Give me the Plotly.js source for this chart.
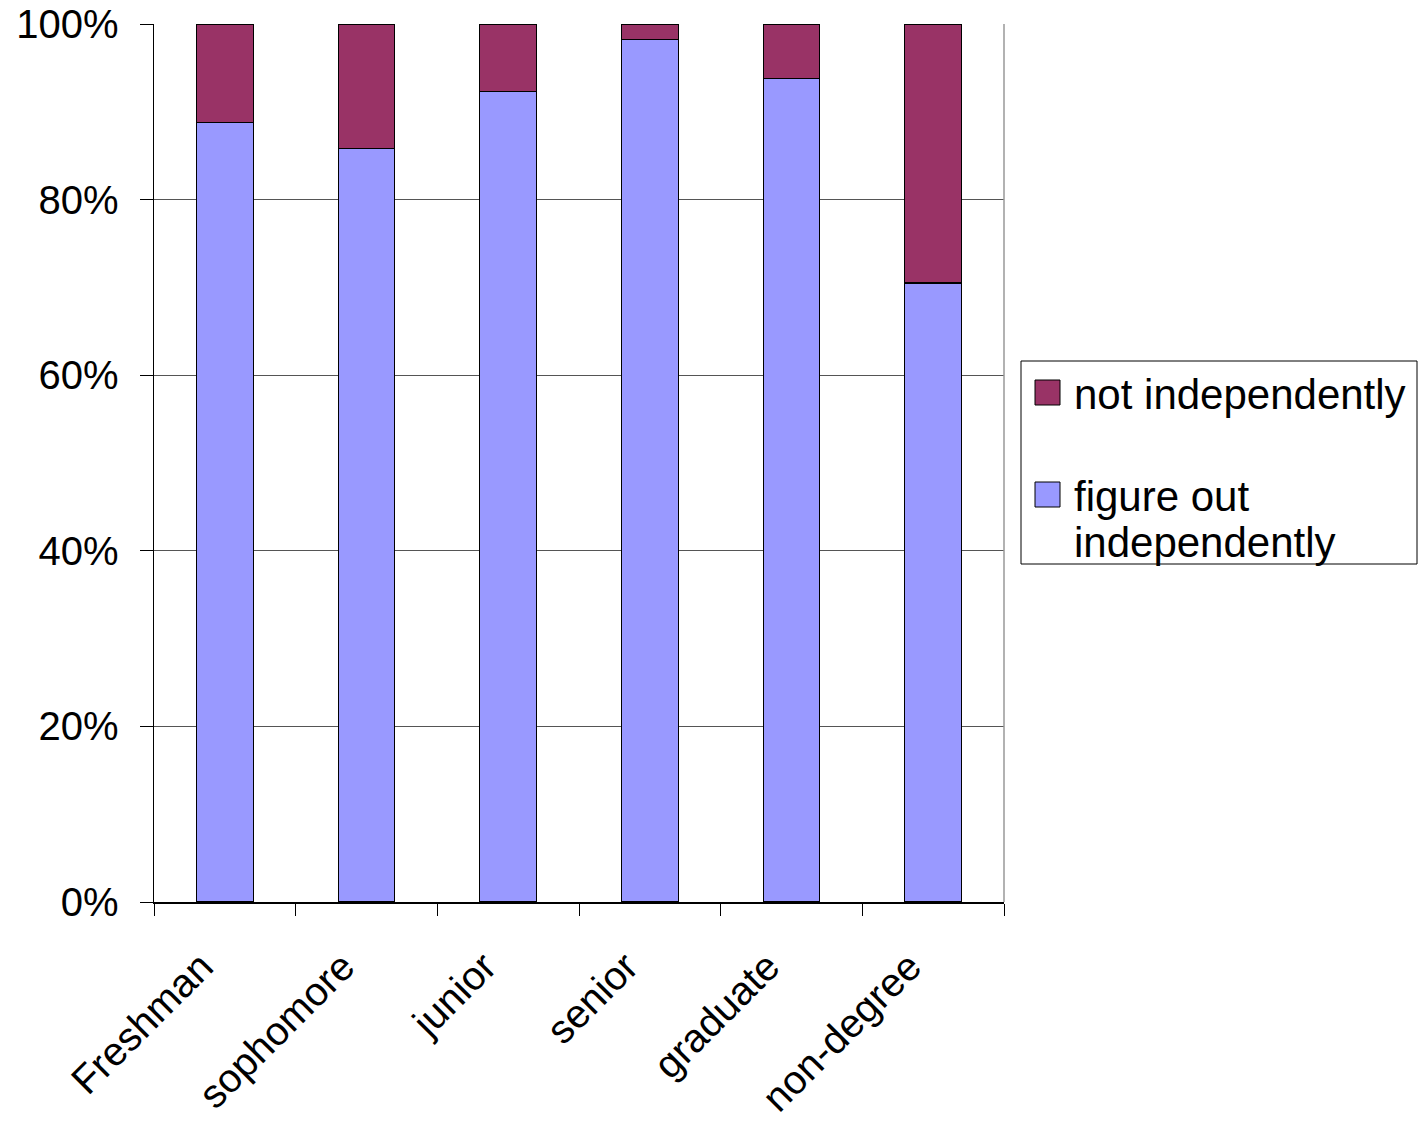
<!DOCTYPE html>
<html>
<head>
<meta charset="utf-8">
<script src="https://cdn.plot.ly/plotly-3.0.1.min.js"></script>
<style>html,body{margin:0;padding:0;background:#fff;}#chart{width:1418px;height:1121px;}</style>
</head>
<body>
<div id="chart"></div>
<script>
const categories = ["Freshman", "sophomore", "junior", "senior", "graduate", "non-degree"];
const figureOut = [0.888, 0.858, 0.923, 0.982, 0.938, 0.705];
const notIndependently = [0.112, 0.142, 0.077, 0.018, 0.062, 0.295];
const yTickVals = [0, 0.2, 0.4, 0.6, 0.8, 1.0];
const yTickText = ["0%", "20%", "40%", "60%", "80%", "100%"];
const seriesNames = ["not independently", "figure out", "independently"];

const font = "Liberation Sans, Arial, sans-serif";
const blue = "#9999FF", maroon = "#993366";

// layout geometry (pixels -> paper)
const W = 1418, H = 1121, L = 154, R = 414, T = 24, B = 219;
const pw = W - L - R, ph = H - T - B;
const px = v => (v - L) / pw;
const py = v => (H - B - v) / ph;

const traces = [
  {
    type: "bar", x: categories, y: figureOut,
    name: "figure out independently", showlegend: false,
    marker: {color: blue, line: {color: "#000", width: 1.2}},
    hoverinfo: "skip"
  },
  {
    type: "bar", x: categories, y: notIndependently,
    name: "not independently", showlegend: false,
    marker: {color: maroon, line: {color: "#000", width: 1.2}},
    hoverinfo: "skip"
  }
];

const legendShapes = [
  {type: "rect", xref: "paper", yref: "paper", x0: px(1021), x1: px(1417), y0: py(564), y1: py(361),
   line: {color: "#000", width: 1}, fillcolor: "#fff"},
  {type: "rect", xref: "paper", yref: "paper", x0: px(1035), x1: px(1060), y0: py(405), y1: py(380),
   line: {color: "#000", width: 1}, fillcolor: maroon},
  {type: "rect", xref: "paper", yref: "paper", x0: px(1035), x1: px(1060), y0: py(507), y1: py(482),
   line: {color: "#000", width: 1}, fillcolor: blue}
];
const legendFont = {family: font, size: 42, color: "#000"};
const legendAnn = [
  {xref: "paper", yref: "paper", x: px(1072), y: py(394), xanchor: "left", yanchor: "middle",
   text: seriesNames[0], showarrow: false, font: legendFont},
  {xref: "paper", yref: "paper", x: px(1072), y: py(496), xanchor: "left", yanchor: "middle",
   text: seriesNames[1], showarrow: false, font: legendFont},
  {xref: "paper", yref: "paper", x: px(1072), y: py(542), xanchor: "left", yanchor: "middle",
   text: seriesNames[2], showarrow: false, font: legendFont}
];

const layout = {
  width: W, height: H,
  margin: {l: L, r: R, t: T, b: B, pad: 0},
  paper_bgcolor: "#fff", plot_bgcolor: "#fff",
  barmode: "stack", bargap: 0.6,
  font: {family: font, size: 40, color: "#000"},
  showlegend: false,
  xaxis: {
    type: "category", tickangle: -45,
    tickson: "boundaries", ticks: "outside", ticklen: 12, tickcolor: "#000", tickwidth: 1,
    ticksuffix: "\u00a0\u00a0\u00a0",
    showline: true, linecolor: "#000", linewidth: 1.5,
    showgrid: false, zeroline: false,
    tickfont: {family: font, size: 40, color: "#000"}
  },
  yaxis: {
    range: [0, 1], tickvals: yTickVals, ticktext: yTickText,
    ticks: "outside", ticklen: 13, tickcolor: "#000", tickwidth: 1,
    showline: true, linecolor: "#000", linewidth: 1.5,
    showgrid: true, gridcolor: "#555", gridwidth: 1,
    zeroline: false, ticklabelstandoff: 13,
    tickfont: {family: font, size: 40, color: "#000"}
  },
  shapes: [
    {type: "line", xref: "paper", yref: "paper", x0: 1, x1: 1, y0: 0, y1: 1,
     line: {color: "#999", width: 1.5}}
  ].concat(legendShapes),
  annotations: legendAnn
};

Plotly.newPlot("chart", traces, layout, {staticPlot: true, displayModeBar: false});
</script>
</body>
</html>
